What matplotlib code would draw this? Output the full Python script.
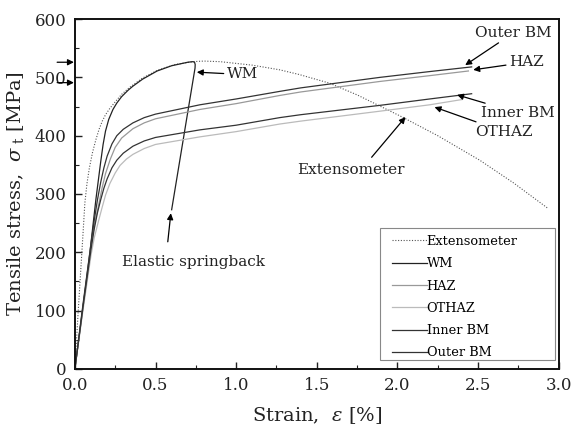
import numpy as np
import matplotlib
matplotlib.use('Agg')
import matplotlib.pyplot as plt
from matplotlib.ticker import MultipleLocator
from matplotlib.patches import Rectangle

plt.rcParams['font.family'] = ['DejaVu Serif']
plt.rcParams['mathtext.fontset'] = 'dejavuserif'

# ── data (strain %, stress MPa) ──
ext_strain = [0, 0.02, 0.05, 0.062, 0.075, 0.09, 0.11, 0.13, 0.15, 0.17, 0.19, 0.217, 0.25, 0.29,
              0.34, 0.42, 0.51, 0.62, 0.73, 0.8, 0.9, 1.1, 1.27, 1.39, 1.58, 1.75, 1.89, 2.03,
              2.25, 2.51, 2.72, 2.93]
ext_stress = [0, 96, 230, 285, 318, 345, 372, 393, 411, 425, 436, 447, 458, 471,
              483, 499, 512, 522, 527, 528, 527, 521, 513, 505, 490, 470, 451, 432,
              400, 358, 319, 276]

wm_strain = [0, 0.05, 0.093, 0.13, 0.16, 0.175, 0.19, 0.21, 0.236, 0.26, 0.29, 0.33, 0.36, 0.42,
             0.51, 0.6, 0.7, 0.732, 0.742, 0.746, 0.745, 0.60]
wm_stress = [0, 105, 199, 290, 355, 385, 408, 428, 445, 456, 467, 478, 485, 497,
             511, 520, 526, 527, 526, 522, 516, 273]

outer_strain = [0, 0.05, 0.10, 0.12, 0.14, 0.16, 0.18, 0.20, 0.23, 0.26, 0.30, 0.36, 0.43, 0.5,
                0.775, 1.0, 1.27, 1.4, 1.89, 2.2, 2.46]
outer_stress = [0, 110, 215, 255, 290, 320, 345, 365, 386, 400, 411, 422, 431, 437,
                453, 463, 476, 482, 500, 510, 518]

haz_strain = [0, 0.05, 0.10, 0.12, 0.15, 0.17, 0.19, 0.22, 0.25, 0.29, 0.36, 0.43, 0.5,
              0.775, 1.0, 1.27, 1.4, 1.89, 2.2, 2.44]
haz_stress = [0, 108, 210, 245, 285, 312, 335, 360, 380, 396, 412, 422, 429,
              445, 455, 469, 475, 493, 503, 511]

inner_strain = [0, 0.05, 0.10, 0.12, 0.14, 0.16, 0.18, 0.2, 0.23, 0.26, 0.3, 0.36, 0.43, 0.5,
                0.775, 1.0, 1.27, 1.4, 1.89, 2.2, 2.46]
inner_stress = [0, 105, 205, 240, 268, 290, 310, 326, 345, 358, 370, 382, 391, 397,
                410, 418, 431, 436, 452, 463, 472]

othaz_strain = [0, 0.05, 0.10, 0.12, 0.145, 0.167, 0.19, 0.217, 0.25, 0.28, 0.32, 0.36, 0.43, 0.5,
                0.775, 1.0, 1.27, 1.4, 1.89, 2.2, 2.40]
othaz_stress = [0, 100, 195, 225, 252, 275, 298, 318, 336, 349, 360, 368, 378, 385,
                398, 407, 420, 425, 442, 453, 462]

fig = plt.figure(figsize=(5.76, 4.34), dpi=100)
ax = fig.add_axes([0.130, 0.150, 0.840, 0.806])

ax.plot(ext_strain, ext_stress, ls=(0, (1, 1.5)), color='#555555', lw=0.8, label='Extensometer')
ax.plot(wm_strain, wm_stress, color='#222222', lw=0.9, label='WM')
ax.plot(haz_strain, haz_stress, color='#999999', lw=0.9, label='HAZ')
ax.plot(othaz_strain, othaz_stress, color='#bbbbbb', lw=0.9, label='OTHAZ')
ax.plot(inner_strain, inner_stress, color='#333333', lw=0.9, label='Inner BM')
ax.plot(outer_strain, outer_stress, color='#333333', lw=0.9, label='Outer BM')

ax.set_xlim(0, 3.0)
ax.set_ylim(0, 600)
ax.xaxis.set_major_locator(MultipleLocator(0.5))
ax.xaxis.set_minor_locator(MultipleLocator(0.25))
ax.yaxis.set_major_locator(MultipleLocator(100))
ax.yaxis.set_minor_locator(MultipleLocator(50))
ax.tick_params(which='both', direction='in', top=False, right=False, labelsize=12, colors='#222222')
ax.tick_params(which='major', length=5, width=1.0, pad=6)
ax.tick_params(which='minor', length=3, width=0.8)
for s in ax.spines.values():
    s.set_linewidth(1.4)
    s.set_color('#111111')

ax.set_xlabel(r'Strain,  $\varepsilon$ [%]', fontsize=14, color='#222222', labelpad=8)
ax.set_ylabel(r'Tensile stress,  $\sigma_{\rm\ t}$ [MPa]', fontsize=14, color='#222222', labelpad=6)

# legend: frameless, with a separate box like the reference
leg = ax.legend(loc='upper left', fontsize=9.3, frameon=False, handlelength=2.7, handletextpad=0.0,
                labelspacing=0.72, borderpad=0.0, borderaxespad=0.0,
                bbox_to_anchor=(0.655, 0.383))
ax.add_patch(Rectangle((0.630, 0.026), 0.362, 0.377, transform=ax.transAxes, fill=False,
                       edgecolor='#888888', lw=0.8, zorder=5))

arrow = dict(arrowstyle='-|>', color='black', lw=0.9, mutation_scale=9, shrinkA=0, shrinkB=0)
txt = dict(fontsize=11, color='#222222', va='center', ha='left')

ax.annotate('WM', xy=(0.756, 509), xytext=(0.94, 505), arrowprops=arrow, **txt)
ax.annotate('Outer BM', xy=(2.42, 521), xytext=(2.48, 576), arrowprops=arrow, **txt)
ax.annotate('HAZ', xy=(2.47, 513), xytext=(2.69, 526), arrowprops=arrow, **txt)
ax.annotate('Inner BM', xy=(2.37, 470), xytext=(2.52, 439), arrowprops=arrow, **txt)
ax.annotate('OTHAZ', xy=(2.23, 449), xytext=(2.48, 407), arrowprops=arrow, **txt)
ax.annotate('Extensometer', xy=(2.05, 432), xytext=(1.376, 341), **txt)
ax.annotate('', xy=(2.05, 432), xytext=(1.84, 363), arrowprops=arrow)
ax.annotate('Elastic springback', xy=(0.29, 183), xytext=(0.29, 183), **txt)
ax.annotate('', xy=(0.595, 267), xytext=(0.576, 218), arrowprops=arrow)

# arrows at the y axis
for yv in (526, 491):
    ax.annotate('', xy=(-0.006, yv), xytext=(-0.11, yv), arrowprops=arrow, annotation_clip=False)

fig.savefig('out.png', dpi=100)
